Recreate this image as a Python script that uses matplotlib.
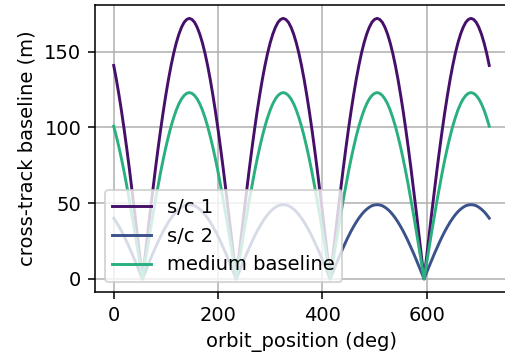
import matplotlib
matplotlib.use('Agg')
import matplotlib.pyplot as plt

# orbit position samples (deg), every 5 deg
orbit_position = list(range(0, 721, 5))

# one 180 deg lobe (zero -> peak -> back), read at 5 deg steps starting at a null (m)
sc1_lobe = [0, 15.0, 29.9, 44.5, 58.8, 72.7, 86.0, 98.7, 110.6, 121.6, 131.8, 140.9,
            149.0, 155.9, 161.6, 166.1, 169.4, 171.3, 172.0, 171.3, 169.4, 166.1,
            161.6, 155.9, 149.0, 140.9, 131.8, 121.6, 110.6, 98.7, 86.0, 72.7,
            58.8, 44.5, 29.9, 15.0]
sc2_lobe = [0, 4.3, 8.5, 12.7, 16.8, 20.7, 24.5, 28.1, 31.5, 34.6, 37.5, 40.1,
            42.4, 44.4, 46.0, 47.3, 48.3, 48.8, 49.0, 48.8, 48.3, 47.3, 46.0,
            44.4, 42.4, 40.1, 37.5, 34.6, 31.5, 28.1, 24.5, 20.7, 16.8, 12.7,
            8.5, 4.3]
medium_lobe = [0, 10.7, 21.4, 31.8, 42.1, 52.0, 61.5, 70.6, 79.1, 87.0, 94.2, 100.8,
               106.5, 111.5, 115.6, 118.8, 121.1, 122.5, 123.0, 122.5, 121.1, 118.8,
               115.6, 111.5, 106.5, 100.8, 94.2, 87.0, 79.1, 70.6, 61.5, 52.0,
               42.1, 31.8, 21.4, 10.7]

# nulls sit at 55, 235, 415, 595 deg
def tile(lobe):
    return lobe[25:] + lobe * 3 + lobe[:26]

sc1 = tile(sc1_lobe)
sc2 = tile(sc2_lobe)
medium = tile(medium_lobe)

fig = plt.figure(figsize=(505 / 140, 356 / 140), dpi=140)
# right edge of the axes is cropped off in the reference
ax = fig.add_axes([0.188, 0.18, 0.818, 0.805])

ax.plot(orbit_position, sc1, color='#46106a', label='s/c 1')
ax.plot(orbit_position, sc2, color='#3b528b', label='s/c 2')
ax.plot(orbit_position, medium, color='#2ab07f', label='medium baseline')

ax.grid(True)
ax.set_xticks([0, 200, 400, 600])
ax.set_yticks([0, 50, 100, 150])
ax.set_xlabel('orbit_position (deg)')
ax.set_ylabel('cross-track baseline (m)')
ax.legend(loc='lower left')

fig.savefig('out.png', dpi=140)
